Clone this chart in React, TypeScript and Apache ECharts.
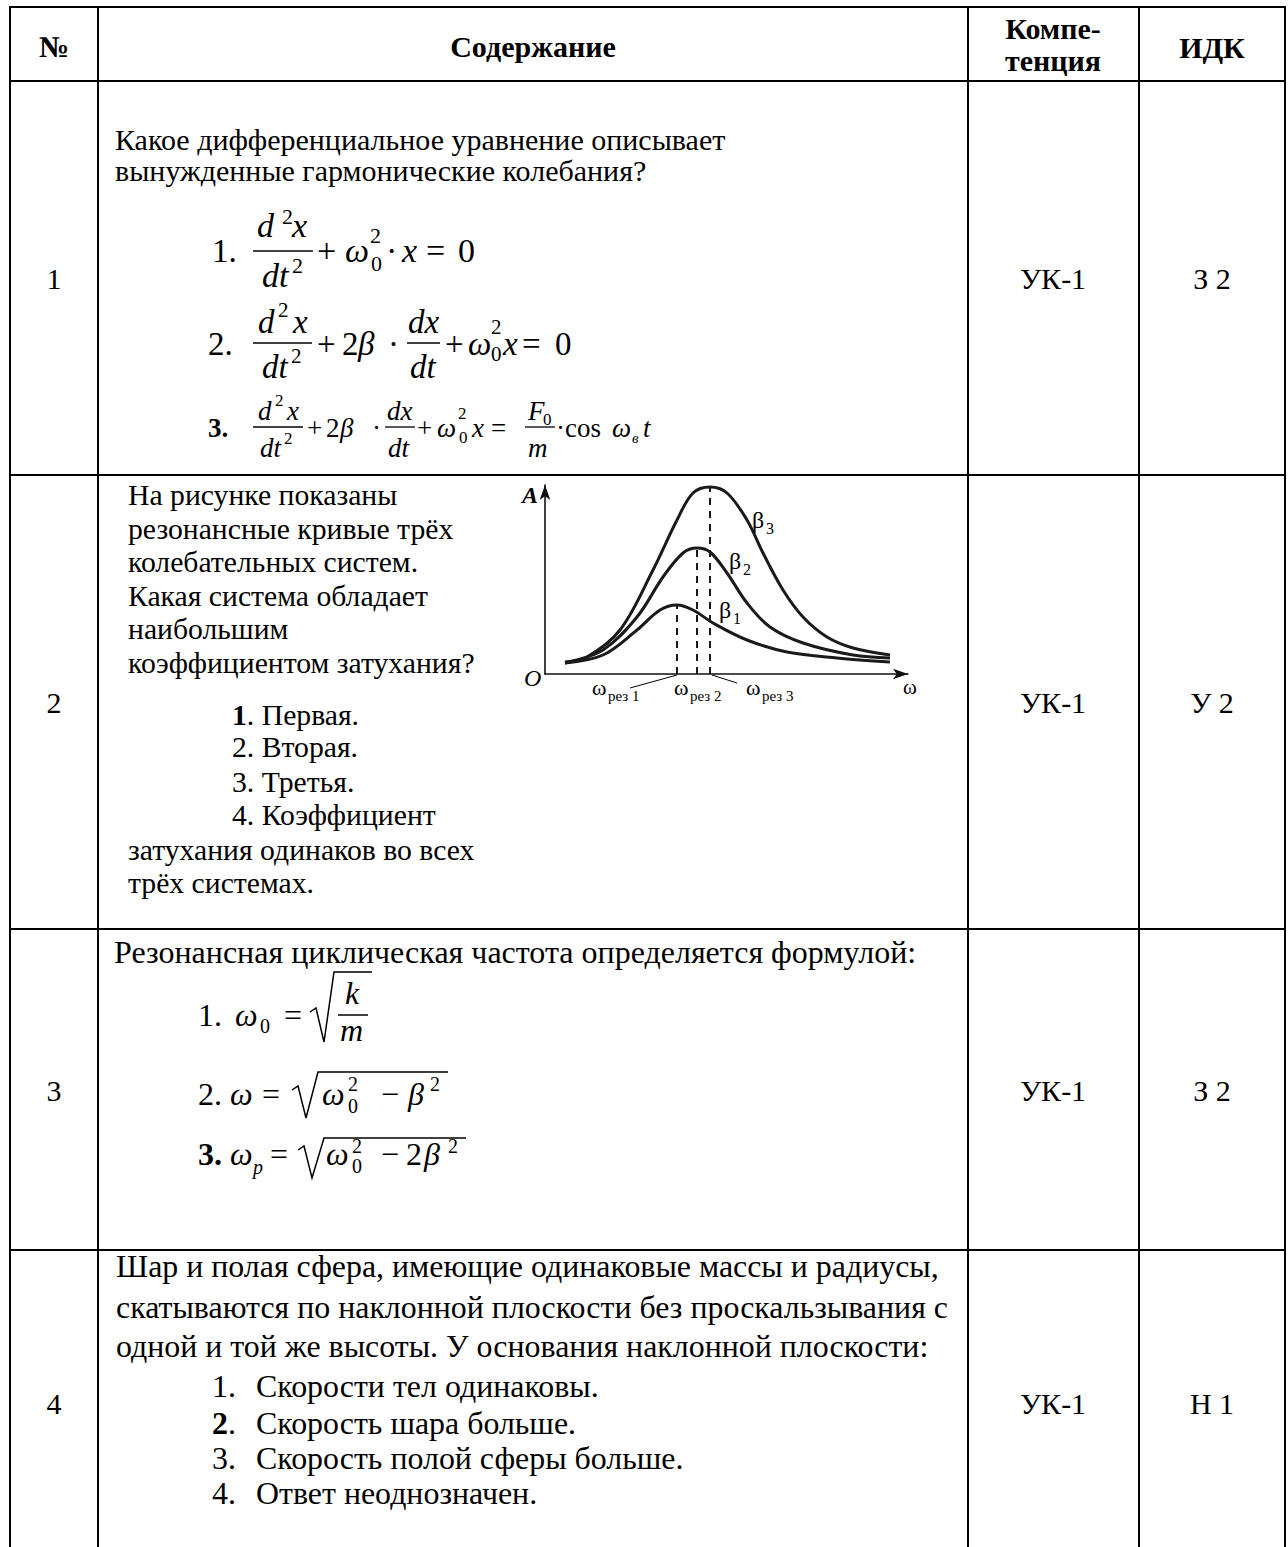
import React, { useEffect, useRef } from "react";
import * as echarts from "echarts";

// ---------- data ----------
// resonance curves: [omega, amplitude] in picture units (origin at axis crossing)
const beta1Curve: number[][] = [[20, 11], [58, 19], [92, 44], [115, 64], [132, 69], [148, 64], [168, 51], [202, 34], [242, 22], [292, 16], [345, 12]];
const beta2Curve: number[][] = [[20, 11], [58, 24], [92, 57], [118, 97], [138, 121], [152, 126], [165, 122], [182, 101], [202, 71], [225, 47], [258, 31], [308, 19], [345, 16]];
const beta3Curve: number[][] = [[20, 12], [42, 17], [75, 44], [108, 104], [132, 154], [148, 181], [165, 187], [182, 181], [202, 154], [218, 121], [238, 84], [258, 57], [282, 37], [308, 26], [345, 19]];
const resonanceOmega = [132, 152, 165];
const resonanceAmp = [69, 126, 187];
const axisMaxOmega = 363;
const axisMaxAmp = 189;

const rowNumbers = ["1", "2", "3", "4"];
const competences = ["УК-1", "УК-1", "УК-1", "УК-1"];
const idkCodes = ["З 2", "У 2", "З 2", "Н 1"];
const rowMid = [278, 702, 1090, 1403];

const row1Lines = ["Какое дифференциальное уравнение описывает", "вынужденные гармонические колебания?"];
const row2Lines = ["На рисунке показаны", "резонансные кривые трёх", "колебательных систем.", "Какая система обладает", "наибольшим", "коэффициентом затухания?"];
const row2Options = ["{b|1}. Первая.", "2. Вторая.", "3. Третья.", "4. Коэффициент"];
const row2Tail = ["затухания одинаков во всех", "трёх системах."];
const row3Line = "Резонансная циклическая частота определяется формулой:";
const row4Lines = ["Шар и полая сфера, имеющие одинаковые массы и радиусы,", "скатываются по наклонной плоскости без проскальзывания с", "одной и той же высоты. У основания наклонной плоскости:"];
const row4Nums = ["1.", "{b|2}.", "3.", "4."];
const row4Options = ["Скорости тел одинаковы.", "Скорость шара больше.", "Скорость полой сферы больше.", "Ответ неоднозначен."];

const FONT = "Liberation Serif";

type Opt = { i?: boolean; b?: boolean; a?: string };

function tm(x: number, mid: number, text: string, size: number, o: Opt = {}) {
  return {
    type: "text",
    x,
    y: mid,
    silent: true,
    z: 10,
    style: {
      text,
      fontSize: size,
      fontFamily: FONT,
      fontStyle: o.i ? "italic" : "normal",
      fontWeight: o.b ? "bold" : "normal",
      fill: "#000",
      textAlign: o.a || "left",
      textVerticalAlign: "middle",
      rich: { b: { fontWeight: "bold", fontSize: size, fontFamily: FONT, fill: "#000" } },
    },
  };
}
function tb(x: number, base: number, text: string, size: number, o: Opt = {}) {
  return tm(x, base - 0.34 * size, text, size, o);
}
function ln(x1: number, y1: number, x2: number, y2: number, w = 2) {
  return { type: "line", silent: true, z: 10, shape: { x1, y1, x2, y2 }, style: { stroke: "#000", lineWidth: w } };
}
function pl(points: number[][], w = 1.5) {
  return { type: "polyline", silent: true, z: 10, shape: { points }, style: { stroke: "#000", lineWidth: w, fill: "none" } };
}

function buildGraphics() {
  const g: any[] = [];
  // table grid
  const colX = [10, 98, 968, 1139, 1285];
  const rowY = [7, 81, 475, 929, 1250];
  rowY.forEach((y) => g.push(ln(colX[0] - 1, y, colX[4] + 1, y, 2)));
  colX.forEach((x) => g.push(ln(x, rowY[0] - 1, x, 1547, 2)));

  // header
  g.push(tm(54, 46, "№", 30, { b: true, a: "center" }));
  g.push(tm(533, 46, "Содержание", 30, { b: true, a: "center" }));
  g.push(tm(1053, 28, "Компе-", 30, { b: true, a: "center" }));
  g.push(tm(1053, 60, "тенция", 30, { b: true, a: "center" }));
  g.push(tm(1212, 47, "ИДК", 30, { b: true, a: "center" }));

  rowNumbers.forEach((n, i) => {
    g.push(tm(54, rowMid[i], n, 30, { a: "center" }));
    g.push(tm(1053, rowMid[i], competences[i], 30, { a: "center" }));
    g.push(tm(1212, rowMid[i], idkCodes[i], 30, { a: "center" }));
  });

  // row 1
  g.push(tm(115, 139.5, row1Lines[0], 30));
  g.push(tm(115, 170, row1Lines[1], 30));
  // formula 1
  g.push(tb(212, 262, "1.", 33));
  g.push(tb(257, 237, "d", 34, { i: true }), tb(282, 224, "2", 22), tb(292, 237, "x", 34, { i: true }));
  g.push(ln(253, 251, 313, 251, 1.5));
  g.push(tb(262, 287, "dt", 34, { i: true }), tb(292, 273, "2", 22));
  g.push(tb(317, 262, "+", 34));
  g.push(tb(345, 262, "ω", 34, { i: true }), tb(370, 243, "2", 22), tb(371, 271, "0", 22));
  g.push(tb(386, 262, "·", 34));
  g.push(tb(402, 262, "x", 34, { i: true }));
  g.push(tb(426, 262, "=", 34));
  g.push(tb(458, 262, "0", 34));
  // formula 2
  g.push(tb(208, 355, "2.", 33));
  g.push(tb(258, 333, "d", 33, { i: true }), tb(278, 317, "2", 21), tb(293, 333, "x", 33, { i: true }));
  g.push(ln(253, 343, 312, 343, 1.5));
  g.push(tb(262, 378, "dt", 33, { i: true }), tb(291, 363, "2", 21));
  g.push(tb(317, 355, "+", 33));
  g.push(tb(342, 355, "2", 33), tb(358, 355, "β", 33, { i: true }));
  g.push(tb(388, 355, "·", 33));
  g.push(tb(408, 333, "dx", 33, { i: true }), ln(407, 343, 440, 343, 1.5), tb(410, 378, "dt", 33, { i: true }));
  g.push(tb(445, 355, "+", 33));
  g.push(tb(468, 355, "ω", 33, { i: true }), tb(491, 334, "2", 21), tb(491, 361, "0", 21));
  g.push(tb(503, 355, "x", 33, { i: true }));
  g.push(tb(522, 355, "=", 33));
  g.push(tb(555, 355, "0", 33));
  // formula 3
  g.push(tb(208, 437, "3.", 27, { b: true }));
  g.push(tb(258, 420, "d", 27, { i: true }), tb(275, 406, "2", 17), tb(287, 420, "x", 27, { i: true }));
  g.push(ln(253, 427, 303, 427, 1.3));
  g.push(tb(260, 457, "dt", 27, { i: true }), tb(284, 444, "2", 17));
  g.push(tb(307, 437, "+", 27));
  g.push(tb(326, 437, "2", 27), tb(340, 437, "β", 27, { i: true }));
  g.push(tb(372, 437, "·", 27));
  g.push(tb(387, 420, "dx", 27, { i: true }), ln(385, 427, 415, 427, 1.3), tb(388, 457, "dt", 27, { i: true }));
  g.push(tb(417, 437, "+", 27));
  g.push(tb(437, 437, "ω", 27, { i: true }), tb(458, 419, "2", 17), tb(459, 443, "0", 17));
  g.push(tb(472, 437, "x", 27, { i: true }));
  g.push(tb(491, 437, "=", 27));
  g.push(tb(528, 420, "F", 27, { i: true }), tb(543, 425, "0", 17));
  g.push(ln(525, 427, 555, 427, 1.3));
  g.push(tb(528, 457, "m", 27, { i: true }));
  g.push(tb(556, 437, "·", 27));
  g.push(tb(565, 437, "cos", 27));
  g.push(tb(612, 437, "ω", 27, { i: true }), tb(632, 443, "в", 15, { i: true }));
  g.push(tb(643, 437, "t", 27, { i: true }));

  // row 2 text
  const R2 = 29.7;
  const r2mid = [495, 529, 562, 596, 629, 663];
  row2Lines.forEach((s, i) => g.push(tm(128, r2mid[i], s, R2)));
  const r2opt = [715, 747, 782, 815];
  row2Options.forEach((s, i) => g.push(tm(232, r2opt[i], s, R2)));
  const r2tail = [850, 883];
  row2Tail.forEach((s, i) => g.push(tm(128, r2tail[i], s, R2)));

  // row 2 chart labels
  g.push(tb(522, 503, "A", 24, { i: true, b: true }));
  g.push(tb(524, 686, "O", 24, { i: true }));
  g.push(tb(903, 694, "ω", 21));
  g.push(tb(752, 528, "β", 24), tb(766, 534, "3", 16));
  g.push(tb(729, 569, "β", 24), tb(743, 575, "2", 16));
  g.push(tb(719, 618, "β", 24), tb(733, 624, "1", 16));
  g.push(tb(592, 695, "ω", 22), tb(608, 701, "рез 1", 15));
  g.push(tb(674, 695, "ω", 22), tb(690, 701, "рез 2", 15));
  g.push(tb(746, 695, "ω", 22), tb(762, 701, "рез 3", 15));
  g.push(ln(630, 688, 677, 675, 1), ln(712, 675, 737, 683, 1));

  // row 3
  const R3 = 32;
  g.push(tm(114, 952, row3Line, R3));
  g.push(tb(198, 1026, "1.", 32), tb(235, 1026, "ω", 32, { i: true }), tb(260, 1033, "0", 20), tb(284, 1026, "=", 32));
  g.push(pl([[310, 1012], [316, 1008], [324, 1042], [334, 972], [372, 972]]));
  g.push(tb(345, 1004, "k", 32, { i: true }), ln(338, 1015, 368, 1015, 1.5), tb(340, 1041, "m", 32, { i: true }));

  g.push(tb(198, 1105, "2.", 32), tb(230, 1105, "ω", 32, { i: true }), tb(262, 1105, "=", 32));
  g.push(pl([[292, 1090], [298, 1086], [306, 1118], [318, 1072], [448, 1072]]));
  g.push(tb(322, 1105, "ω", 32, { i: true }), tb(348, 1091, "2", 20), tb(348, 1113, "0", 20));
  g.push(tb(381, 1105, "−", 32), tb(408, 1105, "β", 32, { i: true }), tb(430, 1091, "2", 20));

  g.push(tb(198, 1165, "3.", 32, { b: true }), tb(230, 1165, "ω", 32, { i: true }), tb(253, 1174, "p", 20, { i: true }), tb(270, 1165, "=", 32));
  g.push(pl([[298, 1150], [304, 1146], [312, 1178], [324, 1138], [466, 1138]]));
  g.push(tb(326, 1165, "ω", 32, { i: true }), tb(352, 1153, "2", 20), tb(352, 1173, "0", 20));
  g.push(tb(381, 1165, "−", 32), tb(406, 1165, "2", 32), tb(424, 1165, "β", 32, { i: true }), tb(448, 1153, "2", 20));

  // row 4
  const R4 = 31.9;
  const r4mid = [1266, 1307, 1346];
  row4Lines.forEach((s, i) => g.push(tm(116, r4mid[i], s, R4)));
  const r4opt = [1386, 1423, 1458, 1493];
  row4Options.forEach((s, i) => {
    g.push(tm(212, r4opt[i], row4Nums[i], R4));
    g.push(tm(256, r4opt[i], s, R4));
  });
  return g;
}

export default function App() {
  const ref = useRef<HTMLDivElement>(null);
  useEffect(() => {
    document.body.style.margin = "0";
    if (!ref.current) return;
    const chart = echarts.init(ref.current, null, { renderer: "svg" });
    const curves = [beta1Curve, beta2Curve, beta3Curve];
    const axisCommon = {
      type: "value",
      min: 0,
      axisLine: { show: true, onZero: false, symbol: ["none", "arrow"], symbolSize: [8, 15], lineStyle: { color: "#111", width: 1.6 } },
      axisTick: { show: false },
      axisLabel: { show: false },
      splitLine: { show: false },
    };
    chart.setOption({
      animation: false,
      backgroundColor: "#fff",
      grid: { left: 545, top: 485, width: 363, height: 189, containLabel: false },
      xAxis: { ...axisCommon, max: axisMaxOmega },
      yAxis: { ...axisCommon, max: axisMaxAmp },
      series: curves.map((c, i) => ({
        type: "line",
        name: "β" + (i + 1),
        data: c,
        smooth: 0.35,
        symbol: "none",
        lineStyle: { color: "#1a1a1a", width: 3 },
        markLine: {
          silent: true,
          symbol: ["none", "none"],
          label: { show: false },
          lineStyle: { type: [7, 6], color: "#1a1a1a", width: 2 },
          data: [[{ coord: [resonanceOmega[i], 0] }, { coord: [resonanceOmega[i], resonanceAmp[i]] }]],
        },
      })),
      graphic: buildGraphics(),
    });
    return () => chart.dispose();
  }, []);
  return <div ref={ref} style={{ width: 1288, height: 1547 }} />;
}
